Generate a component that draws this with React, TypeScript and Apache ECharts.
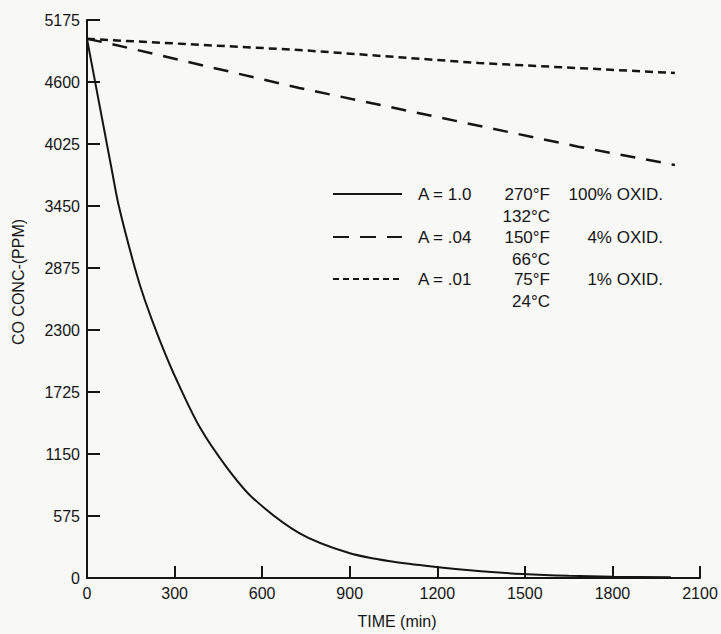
import React, { useEffect, useRef } from "react";
import * as echarts from "echarts";

// ---- data ----
const xTicks = [0, 300, 600, 900, 1200, 1500, 1800, 2100];
const yTicks = [0, 575, 1150, 1725, 2300, 2875, 3450, 4025, 4600, 5175];

// A = 1.0 (solid)
const solidTime = [0, 85, 109, 164, 198, 249, 307, 386, 478, 567, 727, 898, 1050, 1195, 1350, 1492, 1650, 1800, 2000];
const solidConc = [5000, 3784, 3450, 2875, 2578, 2207, 1836, 1400, 1029, 745, 417, 232, 150, 102, 62, 37, 20, 12, 8];

// A = .04 (long dash)
const dashTime = [0, 72, 727, 1683, 2014];
const dashConc = [5000, 4960, 4545, 4000, 3830];

// A = .01 (short dash)
const dotTime = [0, 727, 1342, 2014];
const dotConc = [5000, 4897, 4776, 4683];

// legend rows
const legendA = ["A = 1.0", "A = .04", "A = .01"];
const legendF = ["270°F", "150°F", "75°F"];
const legendC = ["132°C", "66°C", "24°C"];
const legendOx = ["100% OXID.", "4% OXID.", "1% OXID."];

const pairs = (t: number[], v: number[]) => t.map((x, i) => [x, v[i]]);

const FONT = "'Liberation Sans', Arial, Helvetica, sans-serif";
const INK = "#151515";

export default function App() {
  const ref = useRef<HTMLDivElement>(null);
  useEffect(() => {
    if (!ref.current) return;
    const chart = echarts.init(ref.current, null, { renderer: "svg" });
    const rowY = [194, 237, 279];
    const dashes = [undefined, [16, 11], [6, 4]];
    const legendGraphics: any[] = [];
    rowY.forEach((y, i) => {
      legendGraphics.push({
        type: "line",
        shape: { x1: 333, y1: y, x2: 402, y2: y },
        style: { stroke: INK, lineWidth: 2, lineDash: dashes[i] },
      });
      legendGraphics.push({
        type: "text", x: 418, y,
        style: { text: legendA[i], font: `17px ${FONT}`, fill: INK, align: "left", verticalAlign: "middle" },
      });
      legendGraphics.push({
        type: "text", x: 550, y,
        style: { text: legendF[i], font: `17px ${FONT}`, fill: INK, align: "right", verticalAlign: "middle" },
      });
      legendGraphics.push({
        type: "text", x: 550, y: y + 22,
        style: { text: legendC[i], font: `17px ${FONT}`, fill: INK, align: "right", verticalAlign: "middle" },
      });
      legendGraphics.push({
        type: "text", x: 663, y,
        style: { text: legendOx[i], font: `17px ${FONT}`, fill: INK, align: "right", verticalAlign: "middle" },
      });
    });

    chart.setOption({
      animation: false,
      backgroundColor: "#f8f8f6",
      grid: { left: 87, right: 21, top: 20, bottom: 56 },
      xAxis: {
        type: "value",
        min: xTicks[0],
        max: xTicks[xTicks.length - 1],
        interval: 300,
        axisLine: { show: true, lineStyle: { color: INK, width: 2 } },
        axisTick: { show: true, inside: true, length: 12, lineStyle: { color: INK, width: 2 } },
        axisLabel: { color: INK, fontSize: 16, fontFamily: FONT, margin: 7, formatter: (v: number) => String(v) },
        splitLine: { show: false },
      },
      yAxis: {
        type: "value",
        min: yTicks[0],
        max: yTicks[yTicks.length - 1],
        interval: 575,
        axisLine: { show: true, lineStyle: { color: INK, width: 2 } },
        axisTick: { show: true, inside: true, length: 13, lineStyle: { color: INK, width: 2 } },
        axisLabel: { color: INK, fontSize: 16, fontFamily: FONT, margin: 7, formatter: (v: number) => String(v) },
        splitLine: { show: false },
      },
      series: [
        {
          type: "line",
          data: pairs(solidTime, solidConc),
          showSymbol: false,
          smooth: 0.3,
          lineStyle: { color: INK, width: 2 },
        },
        {
          type: "line",
          data: pairs(dashTime, dashConc),
          showSymbol: false,
          lineStyle: { color: INK, width: 2.5, type: [15, 11] },
        },
        {
          type: "line",
          data: pairs(dotTime, dotConc),
          showSymbol: false,
          lineStyle: { color: INK, width: 2.5, type: [8, 5] },
        },
      ],
      graphic: [
        {
          type: "text",
          x: 18,
          y: 282,
          rotation: Math.PI / 2,
          style: { text: "CO CONC-(PPM)", font: `16px ${FONT}`, fill: INK, align: "center", verticalAlign: "middle" },
        },
        {
          type: "text",
          x: 397,
          y: 621,
          style: { text: "TIME (min)", font: `16px ${FONT}`, fill: INK, align: "center", verticalAlign: "middle" },
        },
        ...legendGraphics,
      ],
    });
    return () => chart.dispose();
  }, []);
  return (
    <div
      ref={ref}
      style={{ position: "fixed", left: 0, top: 0, width: 721, height: 634 }}
    />
  );
}
